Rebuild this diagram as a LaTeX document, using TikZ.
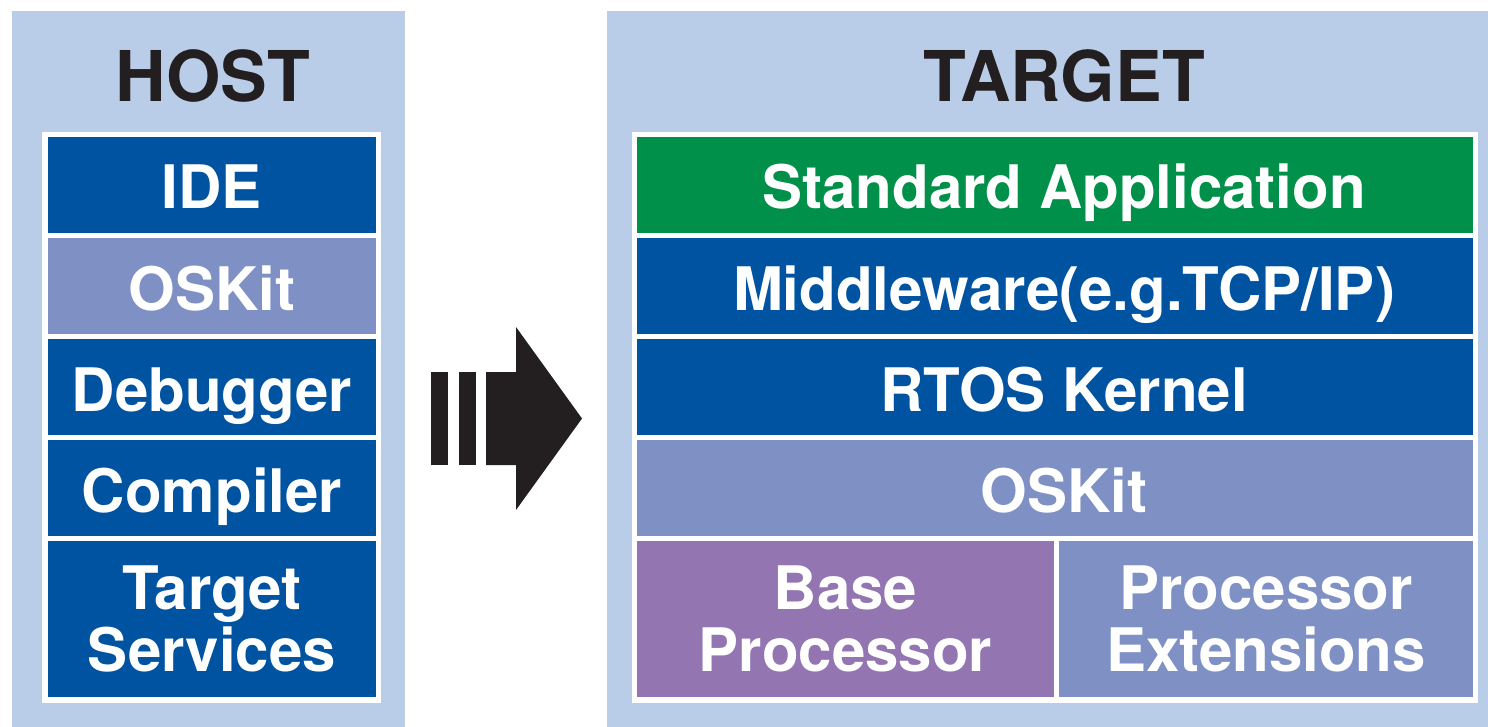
\documentclass[tikz,border=0pt]{standalone}
\usepackage{fontspec}
\setmainfont{TeX Gyre Heros}
\usetikzlibrary{positioning}

\definecolor{panelblue}{HTML}{BACDE8}
\definecolor{layerblue}{HTML}{0053A0}
\definecolor{kitblue}{HTML}{7F91C4}
\definecolor{appgreen}{HTML}{00904A}
\definecolor{basepurple}{HTML}{9275B1}
\definecolor{inkblack}{HTML}{231F20}

\tikzset{
  layer/.style={fill=layerblue, text=white, font=\fontsize{60}{62}\selectfont\bfseries,
    minimum height=96pt, inner sep=0pt, outer sep=0pt, text height=48pt, text depth=0pt, align=center},
  hostlayer/.style={layer, minimum width=328pt},
  targetlayer/.style={layer, minimum width=836pt, execute at begin node={\hspace*{18pt}}},
  twoline/.style={minimum height=156pt, text height=105pt},
  paneltitle/.style={font=\fontsize{70}{72}\selectfont\bfseries, text=inkblack, anchor=base},
}

\begin{document}
\begin{tikzpicture}[x=1pt, y=-1pt]
  \useasboundingbox (0,0) rectangle (1488,727);

  % Panels
  \fill[panelblue] (12,11) rectangle (405,727);
  \fill[panelblue] (607,11) rectangle (1488,727);
  \fill[white] (42,132) rectangle (381,703);
  \fill[white] (632,132) rectangle (1478,703);

  \node[paneltitle] (host) at (213,102) {HOST};
  \node[paneltitle] (target) at (1064,102) {TARGET};

  % Host stack
  \node[hostlayer] (ide) at (212,185) {IDE};
  \node[hostlayer, fill=kitblue, below=5pt of ide] (hostkit) {OSKit};
  \node[hostlayer, below=5pt of hostkit] (debugger) {Debugger};
  \node[hostlayer, below=5pt of debugger] (compiler) {Compiler};
  \node[hostlayer, twoline, below=5pt of compiler] (services) {Target\\Services};

  % Arrow
  \fill[inkblack] (431,372) rectangle (448,465);
  \fill[inkblack] (459,372) rectangle (476,465);
  \fill[inkblack] (486,372) -- (516,372) -- (516,327) -- (582,418.5) -- (516,510)
    -- (516,465) -- (486,465) -- cycle;

  % Target stack
  \node[targetlayer, fill=appgreen] (app) at (1055,185) {Standard Application};
  \node[targetlayer, below=5pt of app] (middleware) {Middleware(e.g.TCP/IP)};
  \node[targetlayer, below=5pt of middleware] (kernel) {RTOS Kernel};
  \node[targetlayer, fill=kitblue, below=5pt of kernel] (targetkit) {OSKit};
  \node[layer, twoline, fill=basepurple, minimum width=417pt, anchor=north west]
    (base) at ([yshift=-5pt]targetkit.south west) {Base\\Processor};
  \node[layer, twoline, fill=kitblue, minimum width=414pt, anchor=north east]
    (ext) at ([yshift=-5pt]targetkit.south east) {Processor\\Extensions};
\end{tikzpicture}
\end{document}
